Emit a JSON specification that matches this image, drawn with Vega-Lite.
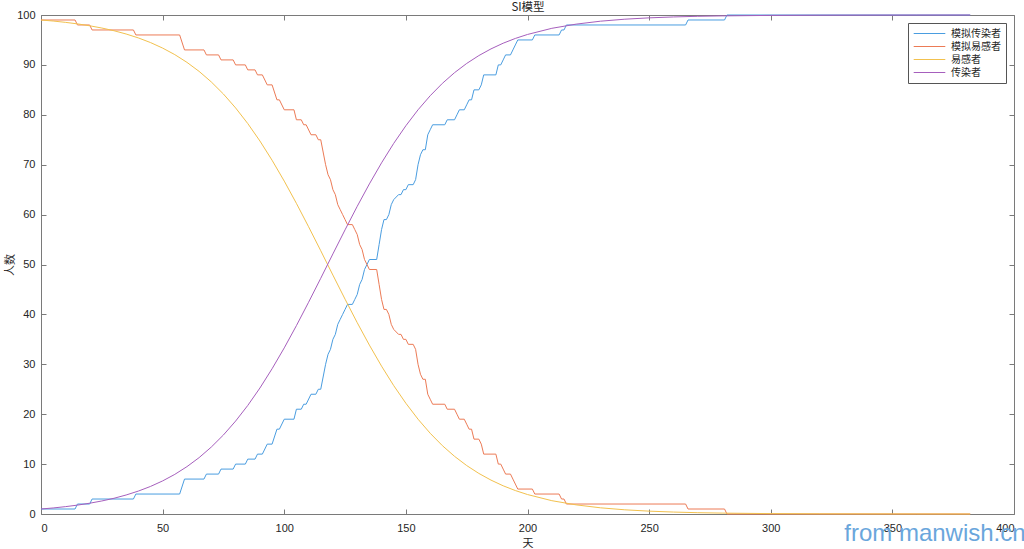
{
  "$schema": "https://vega.github.io/schema/vega-lite/v6.json",
  "width": 973,
  "height": 499,
  "autosize": "none",
  "padding": {"left": 41, "top": 15, "right": 11, "bottom": 35},
  "background": "white",
  "datasets": {
    "sim": [
      {"day": 0, "模拟传染者": 1, "模拟易感者": 99},
      {"day": 14, "模拟传染者": 1, "模拟易感者": 99},
      {"day": 15, "模拟传染者": 2, "模拟易感者": 98},
      {"day": 20, "模拟传染者": 2, "模拟易感者": 98},
      {"day": 21, "模拟传染者": 3, "模拟易感者": 97},
      {"day": 38, "模拟传染者": 3, "模拟易感者": 97},
      {"day": 39, "模拟传染者": 4, "模拟易感者": 96},
      {"day": 57, "模拟传染者": 4, "模拟易感者": 96},
      {"day": 59, "模拟传染者": 7, "模拟易感者": 93},
      {"day": 67, "模拟传染者": 7, "模拟易感者": 93},
      {"day": 68, "模拟传染者": 8, "模拟易感者": 92},
      {"day": 73, "模拟传染者": 8, "模拟易感者": 92},
      {"day": 74, "模拟传染者": 9, "模拟易感者": 91},
      {"day": 79, "模拟传染者": 9, "模拟易感者": 91},
      {"day": 80, "模拟传染者": 10, "模拟易感者": 90},
      {"day": 84, "模拟传染者": 10, "模拟易感者": 90},
      {"day": 85, "模拟传染者": 11, "模拟易感者": 89},
      {"day": 88, "模拟传染者": 11, "模拟易感者": 89},
      {"day": 89, "模拟传染者": 12, "模拟易感者": 88},
      {"day": 91, "模拟传染者": 12, "模拟易感者": 88},
      {"day": 93, "模拟传染者": 14, "模拟易感者": 86},
      {"day": 95, "模拟传染者": 14, "模拟易感者": 86},
      {"day": 97, "模拟传染者": 17, "模拟易感者": 83},
      {"day": 98, "模拟传染者": 17, "模拟易感者": 83},
      {"day": 100, "模拟传染者": 19, "模拟易感者": 81},
      {"day": 104, "模拟传染者": 19, "模拟易感者": 81},
      {"day": 105, "模拟传染者": 21, "模拟易感者": 79},
      {"day": 107, "模拟传染者": 21, "模拟易感者": 79},
      {"day": 108, "模拟传染者": 22, "模拟易感者": 78},
      {"day": 109, "模拟传染者": 22, "模拟易感者": 78},
      {"day": 111, "模拟传染者": 24, "模拟易感者": 76},
      {"day": 113, "模拟传染者": 24, "模拟易感者": 76},
      {"day": 114, "模拟传染者": 25, "模拟易感者": 75},
      {"day": 115, "模拟传染者": 25, "模拟易感者": 75},
      {"day": 117, "模拟传染者": 30, "模拟易感者": 70},
      {"day": 118, "模拟传染者": 32, "模拟易感者": 68},
      {"day": 119, "模拟传染者": 33, "模拟易感者": 67},
      {"day": 120, "模拟传染者": 35, "模拟易感者": 65},
      {"day": 121, "模拟传染者": 36, "模拟易感者": 64},
      {"day": 122, "模拟传染者": 38, "模拟易感者": 62},
      {"day": 123, "模拟传染者": 39, "模拟易感者": 61},
      {"day": 124, "模拟传染者": 40, "模拟易感者": 60},
      {"day": 125, "模拟传染者": 41, "模拟易感者": 59},
      {"day": 126, "模拟传染者": 42, "模拟易感者": 58},
      {"day": 128, "模拟传染者": 42, "模拟易感者": 58},
      {"day": 129, "模拟传染者": 43, "模拟易感者": 57},
      {"day": 130, "模拟传染者": 44, "模拟易感者": 56},
      {"day": 131, "模拟传染者": 46, "模拟易感者": 54},
      {"day": 132, "模拟传染者": 47, "模拟易感者": 53},
      {"day": 133, "模拟传染者": 49, "模拟易感者": 51},
      {"day": 134, "模拟传染者": 50, "模拟易感者": 50},
      {"day": 135, "模拟传染者": 51, "模拟易感者": 49},
      {"day": 138, "模拟传染者": 51, "模拟易感者": 49},
      {"day": 139, "模拟传染者": 54, "模拟易感者": 46},
      {"day": 140, "模拟传染者": 57, "模拟易感者": 43},
      {"day": 141, "模拟传染者": 59, "模拟易感者": 41},
      {"day": 142, "模拟传染者": 59, "模拟易感者": 41},
      {"day": 143, "模拟传染者": 60, "模拟易感者": 40},
      {"day": 144, "模拟传染者": 62, "模拟易感者": 38},
      {"day": 145, "模拟传染者": 63, "模拟易感者": 37},
      {"day": 147, "模拟传染者": 64, "模拟易感者": 36},
      {"day": 148, "模拟传染者": 64, "模拟易感者": 36},
      {"day": 149, "模拟传染者": 65, "模拟易感者": 35},
      {"day": 150, "模拟传染者": 65, "模拟易感者": 35},
      {"day": 151, "模拟传染者": 66, "模拟易感者": 34},
      {"day": 153, "模拟传染者": 66, "模拟易感者": 34},
      {"day": 154, "模拟传染者": 67, "模拟易感者": 33},
      {"day": 155, "模拟传染者": 70, "模拟易感者": 30},
      {"day": 156, "模拟传染者": 72, "模拟易感者": 28},
      {"day": 157, "模拟传染者": 73, "模拟易感者": 27},
      {"day": 158, "模拟传染者": 73, "模拟易感者": 27},
      {"day": 159, "模拟传染者": 76, "模拟易感者": 24},
      {"day": 160, "模拟传染者": 77, "模拟易感者": 23},
      {"day": 161, "模拟传染者": 78, "模拟易感者": 22},
      {"day": 166, "模拟传染者": 78, "模拟易感者": 22},
      {"day": 167, "模拟传染者": 79, "模拟易感者": 21},
      {"day": 170, "模拟传染者": 79, "模拟易感者": 21},
      {"day": 171, "模拟传染者": 80, "模拟易感者": 20},
      {"day": 172, "模拟传染者": 81, "模拟易感者": 19},
      {"day": 174, "模拟传染者": 81, "模拟易感者": 19},
      {"day": 175, "模拟传染者": 82, "模拟易感者": 18},
      {"day": 176, "模拟传染者": 83, "模拟易感者": 17},
      {"day": 177, "模拟传染者": 83, "模拟易感者": 17},
      {"day": 178, "模拟传染者": 85, "模拟易感者": 15},
      {"day": 180, "模拟传染者": 85, "模拟易感者": 15},
      {"day": 181, "模拟传染者": 86, "模拟易感者": 14},
      {"day": 182, "模拟传染者": 88, "模拟易感者": 12},
      {"day": 187, "模拟传染者": 88, "模拟易感者": 12},
      {"day": 188, "模拟传染者": 90, "模拟易感者": 10},
      {"day": 189, "模拟传染者": 90, "模拟易感者": 10},
      {"day": 190, "模拟传染者": 91, "模拟易感者": 9},
      {"day": 191, "模拟传染者": 92, "模拟易感者": 8},
      {"day": 193, "模拟传染者": 92, "模拟易感者": 8},
      {"day": 194, "模拟传染者": 93, "模拟易感者": 7},
      {"day": 195, "模拟传染者": 94, "模拟易感者": 6},
      {"day": 196, "模拟传染者": 95, "模拟易感者": 5},
      {"day": 202, "模拟传染者": 95, "模拟易感者": 5},
      {"day": 203, "模拟传染者": 96, "模拟易感者": 4},
      {"day": 213, "模拟传染者": 96, "模拟易感者": 4},
      {"day": 214, "模拟传染者": 97, "模拟易感者": 3},
      {"day": 215, "模拟传染者": 97, "模拟易感者": 3},
      {"day": 216, "模拟传染者": 98, "模拟易感者": 2},
      {"day": 265, "模拟传染者": 98, "模拟易感者": 2},
      {"day": 266, "模拟传染者": 99, "模拟易感者": 1},
      {"day": 281, "模拟传染者": 99, "模拟易感者": 1},
      {"day": 282, "模拟传染者": 100, "模拟易感者": 0},
      {"day": 382, "模拟传染者": 100, "模拟易感者": 0}
    ],
    "model": [
      {"day": 0, "易感者": 99.0, "传染者": 1.0},
      {"day": 5, "易感者": 98.79, "传染者": 1.21},
      {"day": 10, "易感者": 98.53, "传染者": 1.47},
      {"day": 15, "易感者": 98.22, "传染者": 1.78},
      {"day": 20, "易感者": 97.84, "传染者": 2.16},
      {"day": 25, "易感者": 97.39, "传染者": 2.61},
      {"day": 30, "易感者": 96.85, "传染者": 3.15},
      {"day": 35, "易感者": 96.19, "传染者": 3.81},
      {"day": 40, "易感者": 95.41, "传染者": 4.59},
      {"day": 45, "易感者": 94.48, "传染者": 5.52},
      {"day": 50, "易感者": 93.37, "传染者": 6.63},
      {"day": 55, "易感者": 92.06, "传染者": 7.94},
      {"day": 60, "易感者": 90.51, "传染者": 9.49},
      {"day": 65, "易感者": 88.7, "传染者": 11.3},
      {"day": 70, "易感者": 86.59, "传染者": 13.41},
      {"day": 75, "易感者": 84.16, "传染者": 15.84},
      {"day": 80, "易感者": 81.38, "传染者": 18.62},
      {"day": 85, "易感者": 78.25, "传染者": 21.75},
      {"day": 90, "易感者": 74.75, "传染者": 25.25},
      {"day": 95, "易感者": 70.89, "传染者": 29.11},
      {"day": 100, "易感者": 66.71, "传染者": 33.29},
      {"day": 105, "易感者": 62.25, "传染者": 37.75},
      {"day": 110, "易感者": 57.57, "传染者": 42.43},
      {"day": 115, "易感者": 52.76, "传染者": 47.24},
      {"day": 120, "易感者": 47.88, "传染者": 52.12},
      {"day": 125, "易感者": 43.05, "传染者": 56.95},
      {"day": 130, "易感者": 38.34, "传染者": 61.66},
      {"day": 135, "易感者": 33.85, "传染者": 66.15},
      {"day": 140, "易感者": 29.63, "传染者": 70.37},
      {"day": 145, "易感者": 25.73, "传染者": 74.27},
      {"day": 150, "易感者": 22.19, "传染者": 77.81},
      {"day": 155, "易感者": 19.0, "传染者": 81.0},
      {"day": 160, "易感者": 16.18, "传染者": 83.82},
      {"day": 165, "易感者": 13.7, "传染者": 86.3},
      {"day": 170, "易感者": 11.56, "传染者": 88.44},
      {"day": 175, "易感者": 9.71, "传染者": 90.29},
      {"day": 180, "易感者": 8.13, "传染者": 91.87},
      {"day": 185, "易感者": 6.79, "传染者": 93.21},
      {"day": 190, "易感者": 5.65, "传染者": 94.35},
      {"day": 195, "易感者": 4.7, "传染者": 95.3},
      {"day": 200, "易感者": 3.9, "传染者": 96.1},
      {"day": 210, "易感者": 2.67, "传染者": 97.33},
      {"day": 220, "易感者": 1.83, "传染者": 98.17},
      {"day": 230, "易感者": 1.24, "传染者": 98.76},
      {"day": 240, "易感者": 0.84, "传染者": 99.16},
      {"day": 250, "易感者": 0.57, "传染者": 99.43},
      {"day": 260, "易感者": 0.39, "传染者": 99.61},
      {"day": 270, "易感者": 0.26, "传染者": 99.74},
      {"day": 280, "易感者": 0.18, "传染者": 99.82},
      {"day": 300, "易感者": 0.08, "传染者": 99.92},
      {"day": 320, "易感者": 0.04, "传染者": 99.96},
      {"day": 340, "易感者": 0.02, "传染者": 99.98},
      {"day": 360, "易感者": 0.01, "传染者": 99.99},
      {"day": 382, "易感者": 0.0, "传染者": 100.0}
    ]
  },
  "layer": [
    {
      "data": {"name": "sim"},
      "transform": [{"fold": ["模拟传染者", "模拟易感者"], "as": ["series", "value"]}],
      "mark": {"type": "line", "strokeWidth": 1},
      "encoding": {
        "x": {"field": "day", "type": "quantitative", "scale": {"domain": [0, 400], "nice": false, "zero": false},
              "axis": {"orient": "bottom", "values": [0, 50, 100, 150, 200, 250, 300, 350, 400], "title": "天", "labelPadding": 13, "titlePadding": 4}},
        "y": {"field": "value", "type": "quantitative", "scale": {"domain": [0, 100], "nice": false},
              "axis": {"orient": "left", "values": [0, 10, 20, 30, 40, 50, 60, 70, 80, 90, 100], "title": "人数", "labelPadding": 11, "titlePadding": 1}},
        "color": {"field": "series", "type": "nominal",
                  "scale": {"domain": ["模拟传染者", "模拟易感者", "易感者", "传染者"], "range": ["#4a9de0", "#ec7b56", "#f2c14e", "#a65fbd"]},
                  "legend": {"title": null}}
      }
    },
    {
      "data": {"name": "model"},
      "transform": [{"fold": ["易感者", "传染者"], "as": ["series", "value"]}],
      "mark": {"type": "line", "strokeWidth": 1},
      "encoding": {
        "x": {"field": "day", "type": "quantitative",
              "axis": {"orient": "top", "values": [0, 50, 100, 150, 200, 250, 300, 350, 400], "labels": false, "title": "SI模型", "titleFontSize": 11.5, "titleBaseline": "alphabetic", "titlePadding": 4}},
        "y": {"field": "value", "type": "quantitative",
              "axis": {"orient": "right", "values": [0, 10, 20, 30, 40, 50, 60, 70, 80, 90, 100], "labels": false, "title": null}},
        "color": {"field": "series", "type": "nominal"}
      }
    },
    {
      "data": {"values": [{}]},
      "mark": {"type": "text", "text": "from manwish.cn", "font": "Liberation Sans", "fontSize": 24, "color": "#6aa6dc", "align": "center", "baseline": "middle"},
      "encoding": {
        "x": {"datum": 367.5, "type": "quantitative", "axis": null},
        "y": {"datum": -4, "type": "quantitative", "axis": null}
      }
    }
  ],
  "resolve": {"axis": {"x": "independent", "y": "independent"}},
  "config": {
    "view": {"stroke": null},
    "axis": {
      "grid": false,
      "domainColor": "#7a7a7a",
      "tickColor": "#7a7a7a",
      "tickSize": -5,
      "labelColor": "#262626",
      "labelFont": "Liberation Sans",
      "labelFontSize": 11,
      "titleFont": "Noto Sans CJK SC",
      "titleFontSize": 11,
      "titleFontWeight": "normal",
      "titleColor": "#262626"
    },
    "legend": {
      "orient": "top-right",
      "offset": 8,
      "strokeColor": "#555555",
      "fillColor": "white",
      "padding": 5,
      "symbolType": "stroke",
      "symbolSize": 1000,
      "symbolStrokeWidth": 1,
      "clipHeight": 11,
      "labelFont": "Noto Sans CJK SC",
      "labelFontSize": 10,
      "labelColor": "#262626",
      "labelOffset": 5,
      "rowPadding": 2
    }
  }
}
